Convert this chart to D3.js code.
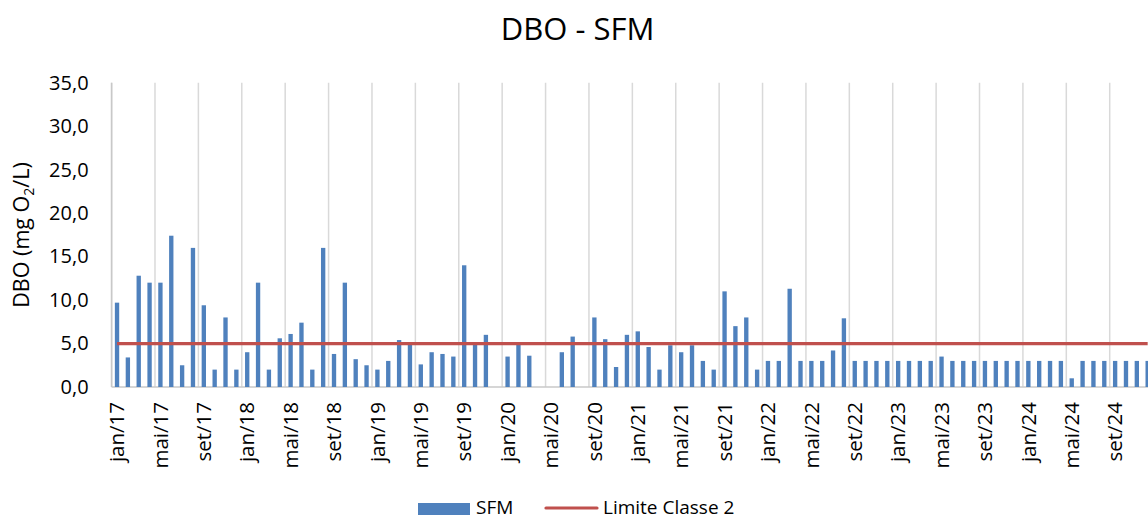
<!DOCTYPE html>
<html>
<head>
<meta charset="utf-8">
<script src="https://cdn.jsdelivr.net/npm/d3@7/dist/d3.min.js"></script>
<style>
  html, body { margin: 0; padding: 0; background: #fff; overflow: hidden; }
  svg { display: block; font-family: "Open Sans", "Liberation Sans", sans-serif; }
</style>
</head>
<body>
<svg id="chart" width="1148" height="520"></svg>
<script>
// ---- Data ----
const monthNames = ["jan","fev","mar","abr","mai","jun","jul","ago","set","out","nov","dez"];
const years = ["17","18","19","20","21","22","23","24"];
const categories = years.flatMap(yy => monthNames.map(m => m + "/" + yy));

const sfm2017 = [9.7, 3.4, 12.8, 12.0, 12.0, 17.4, 2.5, 16.0, 9.4, 2.0, 8.0, 2.0];
const sfm2018 = [4.0, 12.0, 2.0, 5.6, 6.1, 7.4, 2.0, 16.0, 3.8, 12.0, 3.2, 2.5];
const sfm2019 = [2.0, 3.0, 5.4, 5.0, 2.6, 4.0, 3.8, 3.5, 14.0, 5.0, 6.0, null];
const sfm2020 = [3.5, 5.0, 3.6, null, null, 4.0, 5.8, null, 8.0, 5.5, 2.3, 6.0];
const sfm2021 = [6.4, 4.6, 2.0, 4.8, 4.0, 4.8, 3.0, 2.0, 11.0, 7.0, 8.0, 2.0];
const sfm2022 = [3.0, 3.0, 11.3, 3.0, 3.0, 3.0, 4.2, 7.9, 3.0, 3.0, 3.0, 3.0];
const sfm2023 = [3.0, 3.0, 3.0, 3.0, 3.5, 3.0, 3.0, 3.0, 3.0, 3.0, 3.0, 3.0];
const sfm2024 = [3.0, 3.0, 3.0, 3.0, 1.0, 3.0, 3.0, 3.0, 3.0, 3.0, 3.0, 3.0];
const sfmValues = [].concat(sfm2017, sfm2018, sfm2019, sfm2020, sfm2021, sfm2022, sfm2023, sfm2024);

const limiteClasse2 = 5.0;
const yTicks = [0, 5, 10, 15, 20, 25, 30, 35];
const xTickLabels = categories.filter((c, i) => i % 4 === 0);

const chartTitle = "DBO - SFM";
const seriesName = "SFM";
const limitName = "Limite Classe 2";

// ---- Layout ----
const svg = d3.select("#chart");
const plotLeft = 111.6, catStep = 10.849;
const plotRight = plotLeft + categories.length * catStep;
const plotTop = 82.7, plotBottom = 387;

const x = d3.scaleBand().domain(categories).range([plotLeft, plotRight])
  .paddingInner(0.6).paddingOuter(0.3);
const y = d3.scaleLinear().domain([0, 35]).range([plotBottom, plotTop]);

const BLUE = "#4f81bd", RED = "#c0504d";

// Title
svg.append("text").attr("x", 577.5).attr("y", 40)
  .attr("text-anchor", "middle").attr("font-size", 31).attr("fill", "#000")
  .text(chartTitle);

// Vertical gridlines at every 4th category boundary
const gap = (x.step() - x.bandwidth()) / 2;
svg.append("g").selectAll("line").data(xTickLabels).join("line")
  .attr("x1", d => x(d) - gap).attr("x2", d => x(d) - gap)
  .attr("y1", y(35)).attr("y2", y(0))
  .attr("stroke", "#d9d9d9").attr("stroke-width", 1.5);

// Axis lines
svg.append("line").attr("x1", plotLeft).attr("x2", plotLeft).attr("y1", y(35)).attr("y2", y(0))
  .attr("stroke", "#c8c8c8").attr("stroke-width", 1.5);
svg.append("line").attr("x1", plotLeft).attr("x2", plotRight).attr("y1", y(0)).attr("y2", y(0))
  .attr("stroke", "#c8c8c8").attr("stroke-width", 1.5);

// Bars
svg.append("g").selectAll("rect")
  .data(categories.map((c, i) => ({ c, v: sfmValues[i] })).filter(d => d.v != null))
  .join("rect")
  .attr("x", d => x(d.c)).attr("width", x.bandwidth())
  .attr("y", d => y(d.v)).attr("height", d => y(0) - y(d.v))
  .attr("fill", BLUE);

// Limit line
const line = d3.line().x(d => x(d) + x.bandwidth() / 2).y(() => y(limiteClasse2));
svg.append("path").datum(categories).attr("d", line)
  .attr("fill", "none").attr("stroke", RED).attr("stroke-width", 3.2);

// Y axis
const yAxis = svg.append("g").attr("transform", `translate(${plotLeft},0)`)
  .call(d3.axisLeft(y).tickValues(yTicks).tickSize(0).tickPadding(23)
    .tickFormat(d => d.toFixed(1).replace(".", ",")));
yAxis.select(".domain").remove();
yAxis.selectAll("text").attr("font-size", 20).attr("fill", "#000")
  .attr("font-family", "Open Sans, sans-serif");

// X axis
const xAxis = svg.append("g").attr("transform", `translate(0,${y(0)})`)
  .call(d3.axisBottom(x).tickValues(xTickLabels).tickSize(0));
xAxis.select(".domain").remove();
xAxis.selectAll("text")
  .attr("font-size", 20.5).attr("fill", "#000").attr("font-family", "Open Sans, sans-serif")
  .attr("y", 0).attr("x", -15).attr("dy", "0.35em")
  .attr("transform", "rotate(-90)").style("text-anchor", "end");

// Y axis title
const yt = svg.append("text").attr("transform", "translate(29,235) rotate(-90)")
  .attr("text-anchor", "middle").attr("font-size", 21.5).attr("fill", "#000");
yt.append("tspan").text("DBO (mg O");
yt.append("tspan").attr("font-size", 14).attr("dy", 5).text("2");
yt.append("tspan").attr("dy", -5).text("/L)");

// Legend
const lg = svg.append("g");
lg.append("rect").attr("x", 418).attr("y", 503).attr("width", 52).attr("height", 12).attr("fill", BLUE);
lg.append("text").attr("x", 476).attr("y", 514).attr("font-size", 19).attr("fill", "#000").text(seriesName);
lg.append("line").attr("x1", 546).attr("x2", 597).attr("y1", 508).attr("y2", 508)
  .attr("stroke", RED).attr("stroke-width", 3.2).attr("stroke-linecap", "round");
lg.append("text").attr("x", 603).attr("y", 514).attr("font-size", 19).attr("fill", "#000").text(limitName);
</script>
</body>
</html>
